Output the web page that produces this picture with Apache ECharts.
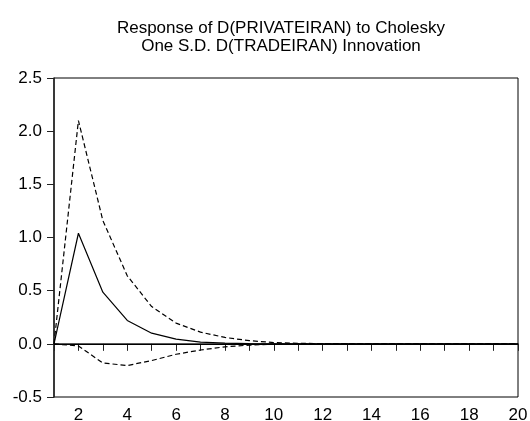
<!DOCTYPE html>
<html>
<head>
<meta charset="utf-8">
<script src="https://cdn.jsdelivr.net/npm/echarts@6/dist/echarts.min.js"></script>
<style>html,body{margin:0;padding:0;background:#fff}#c{width:530px;height:421px}</style>
</head>
<body>
<div id="c"></div>
<script>
const periods = [1,2,3,4,5,6,7,8,9,10,11,12,13,14,15,16,17,18,19,20];
const response = [0, 1.04, 0.486, 0.22, 0.10, 0.044, 0.016, 0.006, 0.002, 0.001, 0, 0, 0, 0, 0, 0, 0, 0, 0, 0];
const upper = [0, 2.1, 1.16, 0.64, 0.35, 0.195, 0.11, 0.06, 0.03, 0.012, 0.005, 0.002, 0.001, 0, 0, 0, 0, 0, 0, 0];
const lower = [0, -0.02, -0.18, -0.204, -0.157, -0.098, -0.058, -0.028, -0.012, -0.004, -0.001, 0, 0, 0, 0, 0, 0, 0, 0, 0];
const yTicks = [-0.5, 0.0, 0.5, 1.0, 1.5, 2.0, 2.5];
const titleLines = ["Response of D(PRIVATEIRAN) to Cholesky", "One S.D. D(TRADEIRAN) Innovation"];

const font = "'Liberation Sans', Arial, sans-serif";
const pair = arr => periods.map((p, i) => [p, arr[i]]);
const chart = echarts.init(document.getElementById('c'), null, {renderer: 'canvas'});
chart.setOption({
  animation: false,
  backgroundColor: '#fff',
  title: {
    text: titleLines.join('\n'),
    left: 276, top: 14, textAlign: 'center',
    textStyle: {fontFamily: font, fontSize: 17, fontWeight: 'normal', color: '#000', lineHeight: 18}
  },
  grid: {left: 54, right: 12, top: 78, bottom: 24, outerBoundsMode: 'none', containLabel: false,
    show: true, borderColor: '#000', borderWidth: 1, backgroundColor: 'transparent'},
  xAxis: {
    type: 'value', min: 1, max: 20, interval: 1,
    axisLine: {show: true, lineStyle: {color: '#222', width: 1.5}},
    axisTick: {show: true, inside: false, length: 7, lineStyle: {color: '#222'}},
    axisLabel: {fontFamily: font, fontSize: 17, color: '#000', margin: 10,
      formatter: v => (v % 2 === 0 ? String(v) : '')},
    splitLine: {show: false}
  },
  yAxis: {
    type: 'value', min: yTicks[0], max: yTicks[yTicks.length - 1], interval: 0.5,
    axisLine: {show: true, lineStyle: {color: '#222', width: 1.5}},
    axisTick: {show: true, inside: false, length: 7, lineStyle: {color: '#222'}},
    axisLabel: {fontFamily: font, fontSize: 17, color: '#000', margin: 12,
      formatter: v => v.toFixed(1)},
    splitLine: {show: false}
  },
  series: [
    {type: 'line', data: pair(response), symbol: 'none', lineStyle: {color: '#000', width: 1.2},
      markLine: {silent: true, symbol: 'none', label: {show: false}, lineStyle: {color: '#000', width: 1, type: 'solid'}, data: [{yAxis: 0}]}},
    {type: 'line', data: pair(upper), symbol: 'none', lineStyle: {color: '#000', width: 1.2, type: [5, 3]}},
    {type: 'line', data: pair(lower), symbol: 'none', lineStyle: {color: '#000', width: 1.2, type: [5, 3]}}
  ]
});
</script>
</body>
</html>
